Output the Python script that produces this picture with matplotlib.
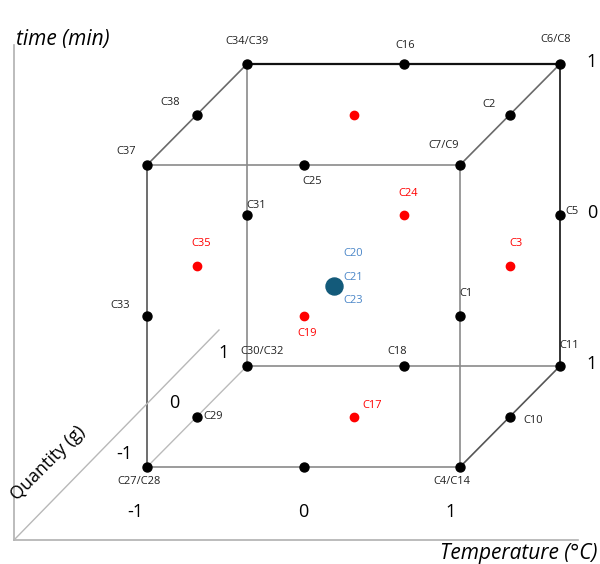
import matplotlib
matplotlib.use("Agg")
import matplotlib.pyplot as plt

plt.rcParams['font.family'] = ['Open Sans', 'DejaVu Sans']

# coded design levels: (temperature, quantity, time)
corner_names = ["C27/C28", "C4/C14", "C30/C32", "C11", "C37", "C7/C9", "C34/C39", "C6/C8"]
corner_T = [-1, 1, -1, 1, -1, 1, -1, 1]
corner_Q = [-1, -1, 1, 1, -1, -1, 1, 1]
corner_t = [-1, -1, -1, -1, 1, 1, 1, 1]

edge_names = ["C29", "C10", "C18", "", "C38", "C2", "C16", "C25", "C33", "C1", "C31", "C5"]
edge_T = [-1, 1, 0, 0, -1, 1, 0, 0, -1, 1, -1, 1]
edge_Q = [0, 0, 1, -1, 0, 0, 1, -1, -1, -1, 1, 1]
edge_t = [-1, -1, -1, -1, 1, 1, 1, 1, 0, 0, 0, 0]

axial_names = ["", "C24", "C3", "C35", "C19", "C17"]
axial_T = [0, 0, 1, -1, 0, 0]
axial_Q = [0, 1, 0, 0, -1, 0]
axial_t = [1, 0, 0, 0, 0, -1]

center_names = ["C20", "C21", "C23"]
center_T, center_Q, center_t = 0, -0.4, 0

levels = [-1, 0, 1]
temp_ticks = ["-1", "0", "1"]
qty_ticks = ["-1", "0", "1"]
time_ticks = ["1", "0", "1"]


def proj(T, Q, t):
    # oblique projection to pixel space (y down)
    return 353.5 + 156.5 * T + 50 * Q, 265.5 - 151 * t - 50.5 * Q


fig = plt.figure(figsize=(6, 5.64), dpi=100)
ax = fig.add_axes([0, 0, 1, 1])
ax.set_xlim(0, 600)
ax.set_ylim(564, 0)
ax.axis("off")

# frame axes
ax.plot([14, 14], [540, 45], color="#b0b0b0", lw=1.2)
ax.plot([14, 578], [540, 540], color="#b0b0b0", lw=1.2)
ax.plot([14, 219], [540, 330], color="#b8b8b8", lw=1)

# cube edges (index pairs into corners) and their shade
edges = [(0, 1, "#8a8a8a", 1.2), (2, 3, "#8a8a8a", 1.2), (4, 5, "#8a8a8a", 1.2), (6, 7, "#111111", 1.6),
         (0, 4, "#555555", 1.2), (1, 5, "#8a8a8a", 1.2), (2, 6, "#8a8a8a", 1.2), (3, 7, "#333333", 1.4),
         (0, 2, "#bbbbbb", 1.0), (1, 3, "#555555", 1.2), (4, 6, "#6a6a6a", 1.2), (5, 7, "#6a6a6a", 1.2)]
for a, b, c, w in edges:
    xa, ya = proj(corner_T[a], corner_Q[a], corner_t[a])
    xb, yb = proj(corner_T[b], corner_Q[b], corner_t[b])
    ax.plot([xa, xb], [ya, yb], color=c, lw=w, zorder=1)

lab = dict(fontsize=8, textcoords="offset pixels", ha="center", va="center")

corner_off = [(-8, -14), (-8, -14), (15, 15), (9, 20), (-21, 14), (-16, 19), (0, 22), (-4, 25)]
for i, name in enumerate(corner_names):
    x, y = proj(corner_T[i], corner_Q[i], corner_t[i])
    ax.scatter(x, y, s=42, color="black", zorder=3)
    ax.annotate(name, (x, y), xytext=corner_off[i], color="#222222", **lab)

edge_off = [(16, 0), (23, -4), (-6, 15), (0, 0), (-27, 12), (-21, 10), (2, 18), (9, -17),
            (-27, 11), (6, 23), (9, 10), (12, 4)]
for i, name in enumerate(edge_names):
    x, y = proj(edge_T[i], edge_Q[i], edge_t[i])
    ax.scatter(x, y, s=42, color="black", zorder=3)
    if name:
        ax.annotate(name, (x, y), xytext=edge_off[i], color="#222222", **lab)

axial_off = [(0, 0), (5, 22), (6, 22), (4, 22), (4, -18), (19, 11)]
for i, name in enumerate(axial_names):
    x, y = proj(axial_T[i], axial_Q[i], axial_t[i])
    ax.scatter(x, y, s=36, color="#ff0000", zorder=3)
    if name:
        ax.annotate(name, (x, y), xytext=axial_off[i], color="#ff0000", **lab)

x, y = proj(center_T, center_Q, center_t)
ax.scatter(x, y, s=150, color="#135a7a", zorder=4)
for name, dy in zip(center_names, [32, 8, -15]):
    ax.annotate(name, (x, y), xytext=(10, dy), color="#4a86c8", fontsize=8,
                textcoords="offset pixels", ha="left", va="center")

# level labels
for v, s in zip(levels, temp_ticks):
    px, py = proj(v, -1, -1)
    ax.text(px - 12 if v < 0 else px - 9 * v, py + 45, s, fontsize=13, ha="center", va="center")
for v, s in zip(levels, qty_ticks):
    px, py = proj(-1, v, -1)
    ax.text(px - 23, py - 13, s, fontsize=13, ha="center", va="center")
for v, s in zip(levels, time_ticks):
    px, py = proj(1, 1, v)
    ax.text(px + 32, py - 2, s, fontsize=13, ha="center", va="center")

ax.text(16, 40, "time (min)", fontsize=15, style="italic", ha="left", va="center")
ax.text(598, 554, "Temperature (°C)", fontsize=15, style="italic", ha="right", va="center")
ax.text(48, 463, "Quantity (g)", fontsize=13, rotation=45, ha="center", va="center",
        rotation_mode="anchor")

fig.savefig("out.png", dpi=100)
